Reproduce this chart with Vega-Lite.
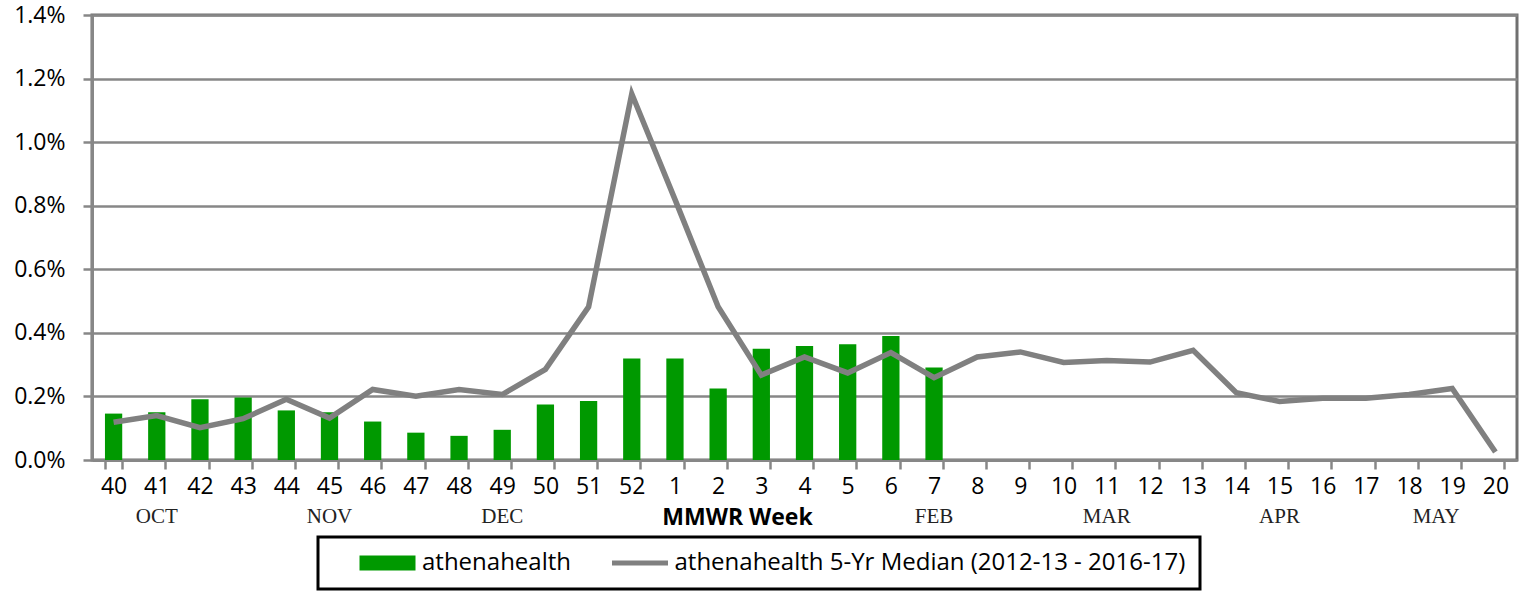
{
  "$schema": "https://vega.github.io/schema/vega-lite/v6.json",
  "autosize": {"type": "none"},
  "padding": {"left": 92, "top": 15, "right": 21, "bottom": 132},
  "width": 1425,
  "height": 445,
  "background": "white",
  "config": {
    "view": {"stroke": "#707070", "strokeWidth": 3},
    "font": "Open Sans",
    "axis": {
      "labelFont": "Open Sans",
      "labelFontSize": 23,
      "labelColor": "black",
      "domainColor": "#878787",
      "domainWidth": 3,
      "tickColor": "#878787",
      "tickWidth": 2.5,
      "tickSize": 9,
      "gridColor": "#878787",
      "gridWidth": 2.5,
      "gridOpacity": 1
    },
    "legend": {
      "strokeColor": "black",
      "padding": 14
    }
  },
  "data": {
    "values": [
      {"week": "40", "pct": 0.00146, "median": 0.00119},
      {"week": "41", "pct": 0.00150, "median": 0.00140},
      {"week": "42", "pct": 0.00191, "median": 0.00102},
      {"week": "43", "pct": 0.00197, "median": 0.00130},
      {"week": "44", "pct": 0.00156, "median": 0.00191},
      {"week": "45", "pct": 0.00150, "median": 0.00132},
      {"week": "46", "pct": 0.00121, "median": 0.00222},
      {"week": "47", "pct": 0.00086, "median": 0.00201},
      {"week": "48", "pct": 0.00076, "median": 0.00222},
      {"week": "49", "pct": 0.00095, "median": 0.00206},
      {"week": "50", "pct": 0.00175, "median": 0.00285},
      {"week": "51", "pct": 0.00186, "median": 0.00482},
      {"week": "52", "pct": 0.00319, "median": 0.01152},
      {"week": "1", "pct": 0.00319, "median": 0.00820},
      {"week": "2", "pct": 0.00225, "median": 0.00482},
      {"week": "3", "pct": 0.00350, "median": 0.00267},
      {"week": "4", "pct": 0.00359, "median": 0.00324},
      {"week": "5", "pct": 0.00364, "median": 0.00274},
      {"week": "6", "pct": 0.00390, "median": 0.00338},
      {"week": "7", "pct": 0.00291, "median": 0.00259},
      {"week": "8", "pct": null, "median": 0.00324},
      {"week": "9", "pct": null, "median": 0.00340},
      {"week": "10", "pct": null, "median": 0.00307},
      {"week": "11", "pct": null, "median": 0.00313},
      {"week": "12", "pct": null, "median": 0.00308},
      {"week": "13", "pct": null, "median": 0.00345},
      {"week": "14", "pct": null, "median": 0.00212},
      {"week": "15", "pct": null, "median": 0.00184},
      {"week": "16", "pct": null, "median": 0.00194},
      {"week": "17", "pct": null, "median": 0.00194},
      {"week": "18", "pct": null, "median": 0.00206},
      {"week": "19", "pct": null, "median": 0.00225},
      {"week": "20", "pct": null, "median": 0.00025}
    ]
  },
  "encoding": {
    "x": {
      "field": "week",
      "type": "nominal",
      "scale": {
        "domain": ["40","41","42","43","44","45","46","47","48","49","50","51","52","1","2","3","4","5","6","7","8","9","10","11","12","13","14","15","16","17","18","19","20"],
        "paddingInner": 0.6,
        "paddingOuter": 0.3
      },
      "axis": {
        "labelAngle": 0,
        "labelBaseline": "middle",
        "labelPadding": 17,
        "tickBand": "extent",
        "title": "MMWR Week",
        "titleFont": "Open Sans",
        "titleFontSize": 23,
        "titleFontWeight": "bold",
        "titleColor": "black",
        "titleBaseline": "middle",
        "titleX": 645,
        "titleY": 57
      }
    }
  },
  "layer": [
    {
      "mark": {"type": "bar"},
      "encoding": {
        "y": {
          "field": "pct",
          "type": "quantitative",
          "scale": {"domain": [0, 0.014]},
          "axis": {
            "values": [0, 0.002, 0.004, 0.006, 0.008, 0.010, 0.012, 0.014],
            "format": ".1%",
            "title": null,
            "labelPadding": 18,
            "grid": true
          }
        },
        "color": {
          "datum": "athenahealth",
          "type": "nominal",
          "scale": {
            "domain": ["athenahealth", "athenahealth 5-Yr Median (2012-13 - 2016-17)"],
            "range": ["#009900", "#808080"]
          },
          "legend": {
            "orient": "none",
            "legendX": 226,
            "legendY": 522,
            "direction": "horizontal",
            "title": null,
            "labelFont": "Open Sans",
            "labelFontSize": 24,
            "labelColor": "black",
            "labelLimit": 0,
            "labelExpr": "datum.value === 'athenahealth' ? datum.label : datum.label + '\u00a0\u00a0\u00a0\u00a0'",
            "symbolSize": 1,
            "symbolOffset": 43.5,
            "labelOffset": 22.5,
            "columnPadding": 12.5,
            "encode": {
              "legend": {
                "update": {
                  "strokeWidth": {"value": 3}
                }
              },
              "symbols": {
                "update": {
                  "shape": {"signal": "datum.value === 'athenahealth' ? 'M-56,-15H56V15H-56Z' : 'M-56,-5H56V5H-56Z'"},
                  "fill": {"scale": "color", "field": "value"},
                  "fillOpacity": {"value": 1},
                  "strokeWidth": {"value": 0}
                }
              }
            }
          }
        }
      }
    },
    {
      "mark": {"type": "line", "strokeWidth": 5.5, "strokeJoin": "miter"},
      "encoding": {
        "y": {"field": "median", "type": "quantitative"},
        "color": {"datum": "athenahealth 5-Yr Median (2012-13 - 2016-17)", "type": "nominal"}
      }
    },
    {
      "data": {
        "values": [
          {"week": "41", "month": "OCT"},
          {"week": "45", "month": "NOV"},
          {"week": "49", "month": "DEC"},
          {"week": "7", "month": "FEB"},
          {"week": "11", "month": "MAR"},
          {"week": "15", "month": "APR"}
        ]
      },
      "mark": {"type": "text", "font": "Liberation Serif", "fontSize": 21, "color": "#222222", "baseline": "middle", "dy": 57},
      "encoding": {
        "y": {"datum": 0, "type": "quantitative"},
        "text": {"field": "month"}
      }
    },
    {
      "data": {"values": [{"week": "19", "month": "MAY"}]},
      "mark": {"type": "text", "font": "Liberation Serif", "fontSize": 21, "color": "#222222", "baseline": "middle", "dy": 57, "dx": -16},
      "encoding": {
        "y": {"datum": 0, "type": "quantitative"},
        "text": {"field": "month"}
      }
    }
  ]
}
